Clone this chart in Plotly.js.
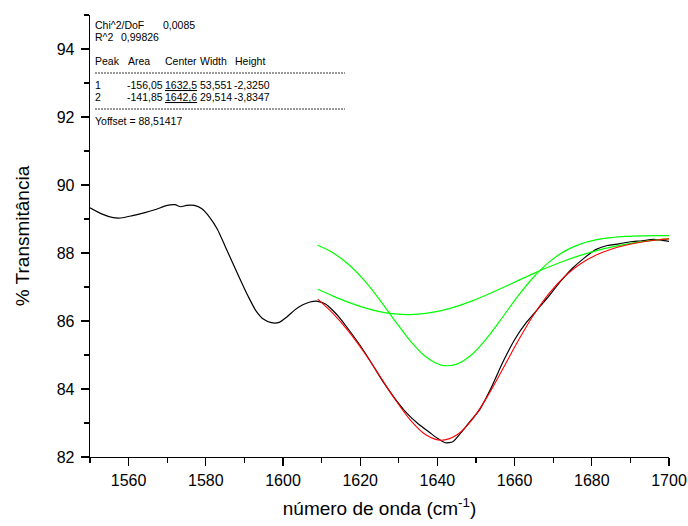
<!DOCTYPE html>
<html>
<head>
<meta charset="utf-8">
<script src="https://cdn.plot.ly/plotly-3.0.1.min.js"></script>
<style>html,body{margin:0;padding:0;background:#fff;}#chart{width:688px;height:526px;}</style>
</head>
<body>
<div id="chart"></div>
<script>
// ---- measured data (black) ----
const dataX = [1550,1553,1556,1558,1561,1564,1567,1570,1572,1573.5,1575,1577,1579,1581,1583,1585,1587,1589,1591,1593,1595,1597,1599,1601,1603,1605,1607,1609,1611,1613,1615,1617,1620,1623,1626,1629,1632,1635,1638,1640,1642,1644,1646,1648,1651,1654,1657,1660,1663,1666,1669,1672,1675,1678,1681,1684,1687,1690,1693,1696,1698,1700];
const dataY = [89.33,89.15,89.04,89.03,89.10,89.18,89.28,89.40,89.42,89.36,89.40,89.40,89.30,89.05,88.70,88.20,87.70,87.20,86.72,86.30,86.05,85.95,85.96,86.12,86.32,86.47,86.56,86.58,86.50,86.30,86.05,85.75,85.28,84.75,84.20,83.72,83.30,82.98,82.72,82.55,82.42,82.45,82.70,82.98,83.40,84.05,84.80,85.45,85.95,86.35,86.75,87.18,87.55,87.85,88.10,88.22,88.27,88.33,88.36,88.40,88.38,88.34];

// ---- fit curves (red = cumulative fit, green = peaks) ----
const fitX   = [1609,1613,1617,1621,1625,1629,1633,1637,1641,1645,1649,1653,1657,1661,1665,1669,1673,1677,1681,1685,1689,1693,1697,1700];
const fitSum = [86.645,86.218,85.696,85.080,84.395,83.700,83.086,82.653,82.491,82.645,83.101,83.788,84.603,85.432,86.189,86.822,87.314,87.676,87.934,88.112,88.236,88.322,88.382,88.415];
const peak1Y = [86.932,86.731,86.548,86.394,86.278,86.209,86.189,86.222,86.303,86.429,86.591,86.780,86.984,87.195,87.401,87.596,87.773,87.930,88.063,88.174,88.263,88.333,88.386,88.417];
const peak2Y = [88.227,88.001,87.662,87.200,86.631,86.006,85.411,84.946,84.702,84.730,85.024,85.523,86.132,86.752,87.302,87.740,88.055,88.261,88.384,88.452,88.487,88.503,88.510,88.512];

// ---- fit report text ----
const statLabels = ['Chi^2/DoF','R^2'];
const statValues = ['0,0085','0,99826'];
const tableHeader = ['Peak','Area','Center','Width','Height'];
const peakIds = ['1','2'];
const peakArea = ['-156,05','-141,85'];
const peakCenter = ['1632,5','1642,6'];
const peakWidth = ['53,551','29,514'];
const peakHeight = ['-2,3250','-3,8347'];
const yOffsetText = 'Yoffset = 88,51417';

const xTitle = 'número de onda (cm<sup>-1</sup>)';
const yTitle = '% Transmitância';

// pixel -> paper helpers (layout only)
const L=90, T=15, PW=579, PH=442;
const px = v => (v - L) / PW;
const py = v => (T + PH - v) / PH;
const FONT = 'Arial, "Liberation Sans", sans-serif';

const ann = [];
function addText(text, x, y) {
  ann.push({text: text, x: px(x - 2), y: py(y), xref: 'paper', yref: 'paper',
    xanchor: 'left', yanchor: 'middle', showarrow: false,
    font: {family: FONT, size: 10.5, color: '#000'}});
}
addText(statLabels[0], 95, 25); addText(statValues[0], 163, 25);
addText(statLabels[1], 95, 37); addText(statValues[1], 121, 37);
const colX = [95, 128, 165, 200, 235];
tableHeader.forEach((h, i) => addText(h, colX[i], 61));
const rowY = [85, 97];
const rowX = [95, 127, 165, 200, 234];
peakIds.forEach((id, r) => {
  addText(id, rowX[0], rowY[r]);
  addText(peakArea[r], rowX[1], rowY[r]);
  addText('<u>' + peakCenter[r] + '</u>', rowX[2], rowY[r]);
  addText(peakWidth[r], rowX[3], rowY[r]);
  addText(peakHeight[r], rowX[4], rowY[r]);
});
addText(yOffsetText, 95, 121);

const shapes = [73, 109].map(y => ({type: 'line', xref: 'paper', yref: 'paper',
  x0: px(95), x1: px(345), y0: py(y), y1: py(y),
  line: {color: '#000', width: 0.8, dash: '2px,1px'}}));

const traces = [
  {x: dataX, y: dataY, mode: 'lines', line: {color: '#000', width: 1.2, shape: 'spline', smoothing: 0.6}, hoverinfo: 'skip'},
  {x: fitX, y: peak1Y, mode: 'lines', line: {color: '#00ff00', width: 1.2, shape: 'spline'}, hoverinfo: 'skip'},
  {x: fitX, y: peak2Y, mode: 'lines', line: {color: '#00ff00', width: 1.2, shape: 'spline'}, hoverinfo: 'skip'},
  {x: fitX, y: fitSum, mode: 'lines', line: {color: '#ff0000', width: 1.1, shape: 'spline'}, hoverinfo: 'skip'}
];

const axisCommon = {
  showline: true, linecolor: '#000', linewidth: 1.3, mirror: false,
  showgrid: false, zeroline: false,
  ticks: 'outside', ticklen: 8, tickwidth: 1.3, tickcolor: '#000',
  tickfont: {family: FONT, size: 16, color: '#000'},
  automargin: false
};

const layout = {
  width: 688, height: 526,
  margin: {l: L, r: 688 - L - PW, t: T, b: 526 - T - PH},
  paper_bgcolor: '#fff', plot_bgcolor: '#fff',
  showlegend: false,
  xaxis: Object.assign({}, axisCommon, {
    range: [1550, 1700], tick0: 1560, dtick: 20,
    minor: {dtick: 10, tick0: 1550, ticks: 'outside', ticklen: 5, tickwidth: 1.3, tickcolor: '#000', showgrid: false},
    title: {text: xTitle, font: {family: FONT, size: 19, color: '#000'}, standoff: 14}
  }),
  yaxis: Object.assign({}, axisCommon, {
    range: [82, 95], tick0: 82, dtick: 2,
    minor: {dtick: 1, tick0: 82, ticks: 'outside', ticklen: 5, tickwidth: 1.3, tickcolor: '#000', showgrid: false},
    ticklabelstandoff: 3,
    title: {text: yTitle, font: {family: FONT, size: 19, color: '#000'}, standoff: 22}
  }),
  annotations: ann,
  shapes: shapes
};

Plotly.newPlot('chart', traces, layout, {staticPlot: true, displayModeBar: false});
</script>
</body>
</html>
